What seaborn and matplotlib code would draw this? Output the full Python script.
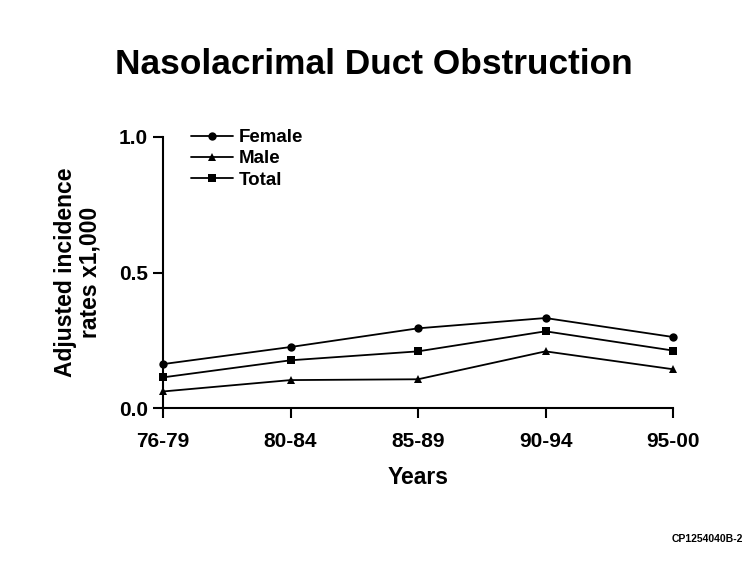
import pandas as pd
import matplotlib.pyplot as plt
import seaborn as sns

periods = ['76-79', '80-84', '85-89', '90-94', '95-00']
female = [0.162, 0.225, 0.294, 0.332, 0.262]
male = [0.061, 0.103, 0.106, 0.209, 0.143]
total = [0.113, 0.176, 0.209, 0.283, 0.212]

df = pd.DataFrame({
    'period': periods * 3,
    'rate': female + male + total,
    'group': ['Female'] * 5 + ['Male'] * 5 + ['Total'] * 5,
})

sns.set_style('ticks')
plt.rcParams['font.family'] = ['Liberation Sans', 'DejaVu Sans']
plt.rcParams['font.weight'] = 'bold'
plt.rcParams['text.color'] = 'black'
plt.rcParams['axes.labelcolor'] = 'black'
plt.rcParams['xtick.color'] = 'black'
plt.rcParams['ytick.color'] = 'black'
plt.rcParams['axes.edgecolor'] = 'black'

fig = plt.figure(figsize=(7.5, 5.63), dpi=100)
ax = fig.add_axes([163 / 750, 1 - 408 / 563, 510 / 750, 271 / 563])

sns.lineplot(data=df, x='period', y='rate', hue='group', style='group',
             palette=['black'] * 3, markers={'Female': 'o', 'Male': '^', 'Total': 's'},
             dashes=False, markersize=6, linewidth=1.3, markeredgewidth=0,
             sort=False, ax=ax, clip_on=False)

ax.set_xlim(0, 4)
ax.set_ylim(0, 1.0)
ax.set_yticks([0.0, 0.5, 1.0])
ax.set_yticklabels(['0.0', '0.5', '1.0'])
ax.tick_params(axis='y', labelsize=15, width=1.5, length=7, direction='out', pad=4)
ax.tick_params(axis='x', labelsize=15, width=1.5, length=7, direction='out', pad=10)
for lab in ax.get_xticklabels() + ax.get_yticklabels():
    lab.set_fontweight('bold')
for s in ['top', 'right']:
    ax.spines[s].set_visible(False)
for s in ['left', 'bottom']:
    ax.spines[s].set_linewidth(1.5)

ax.set_xlabel('Years', fontsize=16.5, fontweight='bold', labelpad=11)
ax.set_ylabel('Adjusted incidence\nrates x1,000', fontsize=16.5, fontweight='bold',
              labelpad=12, linespacing=1.1)

leg = ax.legend(loc='upper left', bbox_to_anchor=(0.029, 1.078), frameon=False,
                fontsize=13.5, handlelength=2.25, handletextpad=0.3, labelspacing=0.22,
                borderpad=0.2)
for t in leg.get_texts():
    t.set_fontweight('bold')

fig.text(0.498, 0.886, 'Nasolacrimal Duct Obstruction', ha='center', va='center',
         fontsize=25.4, fontweight='bold')
fig.text(0.943, 0.043, 'CP1254040B-2', ha='center', va='center', fontsize=7.5,
         fontweight='bold')

fig.savefig('out.png', dpi=100)
